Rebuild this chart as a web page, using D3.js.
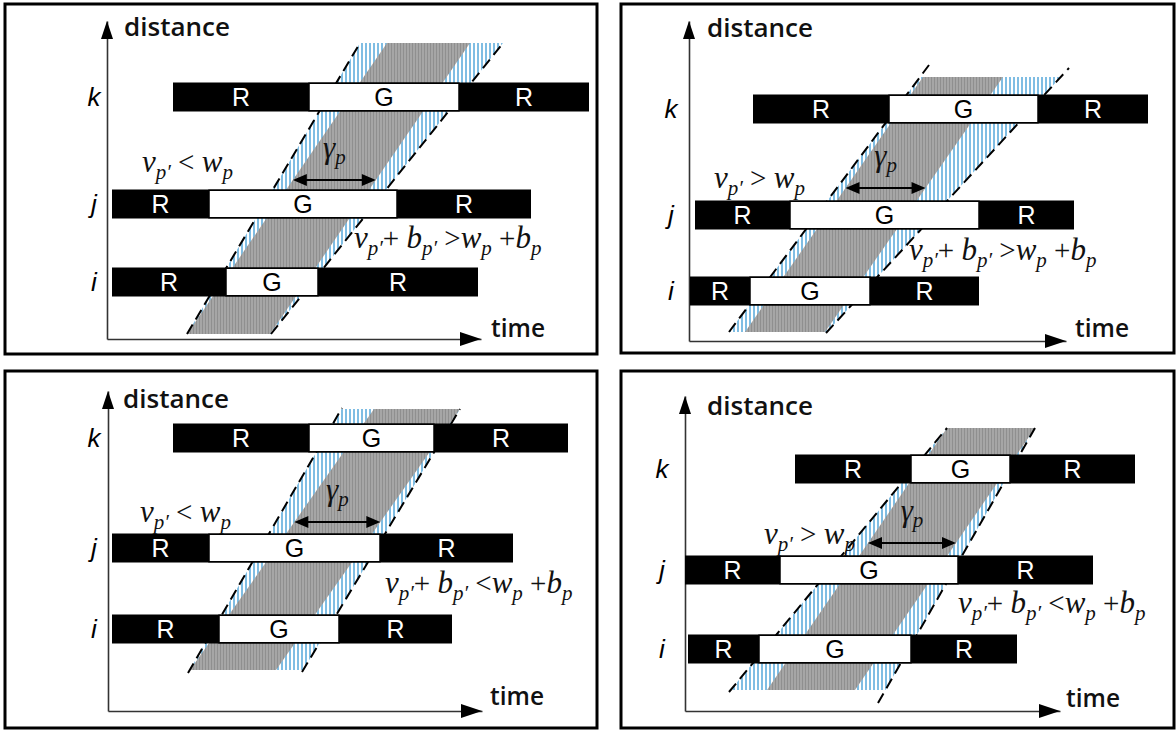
<!DOCTYPE html>
<html><head><meta charset="utf-8">
<script src="https://cdn.jsdelivr.net/npm/d3@7"></script>
<style>html,body{margin:0;padding:0;background:#fff;}svg{display:block}</style>
</head><body>
<svg id="c" width="1176" height="731"></svg>
<script>
// ---------------- data (time / distance units measured from each panel's origin) ----------------
const intersections = ["k", "j", "i"];
const signalDistance = [[242, 135, 57], [232, 126, 50], [273, 163, 82], [242, 141, 62]];
const cycleStart     = [[66, 5, 5],     [64, 6, 1],     [65, 4, 4],     [110, 0, 3]];
const greenStart     = [[202, 102, 119],[200, 101, 61], [201, 101, 111],[226, 95, 74]];
const greenEnd       = [[352, 290, 211],[349, 290, 181],[326, 272, 231],[325, 273, 226]];
const cycleEnd       = [[482, 424, 371],[459, 385, 290],[460, 405, 344],[450, 408, 332]];
const bandDistance   = [[5, 296], [9, 264], [41, 302], [21, 283]];      // bottom / top of platoon band
const bandLeftTime   = [[80, 280], [56, 234], [82, 266], [82, 262]];    // left edge time at bottom / top
const bandWidth      = [83, 80, 86, 88];                                 // gamma_p
const dashLeft  = [[[80, 5], [253, 296]], [[40, 9], [240, 276]], [[80, 38], [234, 303]], [[44, 19], [262, 283]]];
const dashRight = [[[164, 5], [396, 296]], [[137, 8], [380, 273]], [[194, 39], [352, 302]], [[193, 8], [350, 283]]];
const gammaDistance = [159, 153, 189, 168];
const speedRelation = ["<", ">", "<", ">"];
const sumRelation   = [">", ">", "<", "<"];
const axisLabels = ["distance", "time"];

// ---------------- layout ----------------
const layouts = [
  {frame:[5,4,592,350],   ox:107, oy:339, xTip:481,  yTip:21,  dist:[124,36],  time:[491,337],  lblX:94,  f1:[35,167], f2:[247,91]},
  {frame:[621,4,553,349], ox:689, oy:341, xTip:1066, yTip:21,  dist:[707,37],  time:[1075,337], lblX:671, f1:[25,153], f2:[220,81]},
  {frame:[5,371,592,357], ox:108, oy:711, xTip:482,  yTip:391, dist:[123,408], time:[490,705],  lblX:94,  f1:[32,189], f2:[277,118]},
  {frame:[621,371,553,357],ox:685,oy:711, xTip:1060, yTip:396, dist:[707,415], time:[1066,707], lblX:662, f1:[79,167], f2:[273,98]}
];

const svg = d3.select("#c");
const defs = svg.append("defs");
const pg = defs.append("pattern").attr("id","grayHatch").attr("patternUnits","userSpaceOnUse").attr("width",3).attr("height",10);
pg.append("rect").attr("width",3).attr("height",10).attr("fill","#a6a6a6");
pg.append("rect").attr("x",1).attr("width",1).attr("height",10).attr("fill","#8f8f8f");
const pb = defs.append("pattern").attr("id","blueHatch").attr("patternUnits","userSpaceOnUse").attr("width",4).attr("height",10);
pb.append("rect").attr("width",4).attr("height",10).attr("fill","#ffffff");
pb.append("rect").attr("x",1).attr("width",2).attr("height",10).attr("fill","#7fbde3");

const BAR_H = 29;
const SANS = "Open Sans", ARIAL = "Liberation Sans", SERIF = "Liberation Serif";

function formula(g, x, y, parts) {
  const t = g.append("text").attr("x", x).attr("y", y)
    .attr("font-family", SERIF).attr("font-size", 31).attr("font-style","italic")
    .style("white-space","pre").attr("fill","#111");
  let shift = 0;
  parts.forEach(([s, kind]) => {
    const target = kind === "s" ? 7 : 0;
    const ts = t.append("tspan").text(s).attr("dy", target - shift);
    shift = target;
    if (kind === "s") ts.attr("font-size", 21);
    if (kind === "o") ts.attr("font-style","normal").attr("font-size", 29);
  });
}

layouts.forEach((L, p) => {
  const g = svg.append("g");
  const x = d3.scaleLinear().domain([0, L.xTip - L.ox]).range([L.ox, L.xTip]);
  const y = d3.scaleLinear().domain([0, L.oy - L.yTip]).range([L.oy, L.yTip]);

  // frame
  g.append("rect").attr("x",L.frame[0]).attr("y",L.frame[1]).attr("width",L.frame[2]).attr("height",L.frame[3])
    .attr("fill","none").attr("stroke","#000").attr("stroke-width",3);

  // band geometry
  const [d0, d1] = bandDistance[p];
  const leftEdge = d3.scaleLinear().domain([d0, d1]).range(bandLeftTime[p]);
  const dl = d3.scaleLinear().domain([dashLeft[p][0][1], dashLeft[p][1][1]]).range([dashLeft[p][0][0], dashLeft[p][1][0]]);
  const dr = d3.scaleLinear().domain([dashRight[p][0][1], dashRight[p][1][1]]).range([dashRight[p][0][0], dashRight[p][1][0]]);
  const line = d3.line().x(d => x(d[0])).y(d => y(d[1]));

  // blue hatched envelope between the dashed trajectories
  g.append("path").attr("d", line([[dl(d0), d0], [dr(d0), d0], [dr(d1), d1], [dl(d1), d1]]) + "Z")
    .attr("fill","url(#blueHatch)");
  // gray platoon band
  g.append("path").attr("d", line([[leftEdge(d0), d0], [leftEdge(d0) + bandWidth[p], d0],
                                   [leftEdge(d1) + bandWidth[p], d1], [leftEdge(d1), d1]]) + "Z")
    .attr("fill","url(#grayHatch)");
  // dashed trajectories
  [dashLeft[p], dashRight[p]].forEach(pts => {
    g.append("path").attr("d", line(pts)).attr("fill","none").attr("stroke","#000")
      .attr("stroke-width",2).attr("stroke-dasharray","11,6");
  });

  // axes
  const xAxis = d3.axisBottom(x).tickValues([]).tickSizeOuter(0);
  const yAxis = d3.axisLeft(y).tickValues([]).tickSizeOuter(0);
  const ax = g.append("g").attr("transform", `translate(0,${L.oy})`).call(xAxis);
  const ay = g.append("g").attr("transform", `translate(${L.ox},0)`).call(yAxis);
  [ax, ay].forEach(a => a.select(".domain").attr("stroke","#333").attr("stroke-width",1.6));
  g.append("path").attr("d", `M${L.xTip},${L.oy} l-21,-7 l0,14 Z`).attr("fill","#000");
  g.append("path").attr("d", `M${L.ox},${L.yTip} l-6,18 l12,0 Z`).attr("fill","#000");
  g.append("text").attr("x", L.dist[0]).attr("y", L.dist[1]).text(axisLabels[0])
    .attr("font-family", SANS).attr("font-weight",600).attr("font-size", 25).attr("textLength",106).attr("lengthAdjust","spacingAndGlyphs").attr("fill","#111");
  g.append("text").attr("x", L.time[0]).attr("y", L.time[1]).text(axisLabels[1])
    .attr("font-family", SANS).attr("font-weight",600).attr("font-size", 25).attr("textLength",54).attr("lengthAdjust","spacingAndGlyphs").attr("fill","#111");

  // signal bars
  intersections.forEach((name, s) => {
    const cy = y(signalDistance[p][s]);
    const top = cy - BAR_H / 2;
    g.append("rect").attr("x", x(cycleStart[p][s])).attr("y", top)
      .attr("width", x(cycleEnd[p][s]) - x(cycleStart[p][s])).attr("height", BAR_H).attr("fill","#000");
    g.append("rect").attr("x", x(greenStart[p][s])).attr("y", top + 0.75)
      .attr("width", x(greenEnd[p][s]) - x(greenStart[p][s])).attr("height", BAR_H - 1.5)
      .attr("fill","#fff").attr("stroke","#000").attr("stroke-width",1.5);
    const segs = [[cycleStart[p][s], greenStart[p][s], "R", "#fff"],
                  [greenStart[p][s], greenEnd[p][s], "G", "#000"],
                  [greenEnd[p][s], cycleEnd[p][s], "R", "#fff"]];
    segs.forEach(([a, b, lab, col]) => {
      g.append("text").attr("x", (x(a) + x(b)) / 2).attr("y", cy + 9).attr("text-anchor","middle")
        .attr("font-family", ARIAL).attr("font-size", 25).attr("fill", col).text(lab);
    });
    g.append("text").attr("x", L.lblX).attr("y", cy + 9).attr("text-anchor","middle")
      .attr("font-family", ARIAL).attr("font-style","italic").attr("font-size", 26).attr("fill","#000").text(name);
  });

  // gamma_p arrow spanning the band
  const gd = gammaDistance[p];
  const gx0 = x(leftEdge(gd)), gx1 = x(leftEdge(gd) + bandWidth[p]), gy = y(gd);
  g.append("line").attr("x1", gx0 + 8).attr("x2", gx1 - 8).attr("y1", gy).attr("y2", gy)
    .attr("stroke","#000").attr("stroke-width",2);
  g.append("path").attr("d", `M${gx0},${gy} l14,-6 l0,12 Z M${gx1},${gy} l-14,-6 l0,12 Z`).attr("fill","#000");
  const gt = g.append("text").attr("x", (gx0 + gx1) / 2).attr("y", gy - 22).attr("text-anchor","middle")
    .attr("font-family", SERIF).attr("font-style","italic").attr("font-size", 31).attr("fill","#111");
  gt.append("tspan").text("γ");
  gt.append("tspan").text("p").attr("font-size",21).attr("dy",6);

  // formulas
  formula(g, x(L.f1[0]), y(L.f1[1]), [["v","m"],["p′","s"],[" " + speedRelation[p] + " ","o"],["w","m"],["p","s"]]);
  formula(g, x(L.f2[0]), y(L.f2[1]), [["v","m"],["p′","s"],["+ ","o"],["b","m"],["p′","s"],[" " + sumRelation[p],"o"],
                                       ["w","m"],["p","s"],[" +","o"],["b","m"],["p","s"]]);
});
</script>
</body></html>
